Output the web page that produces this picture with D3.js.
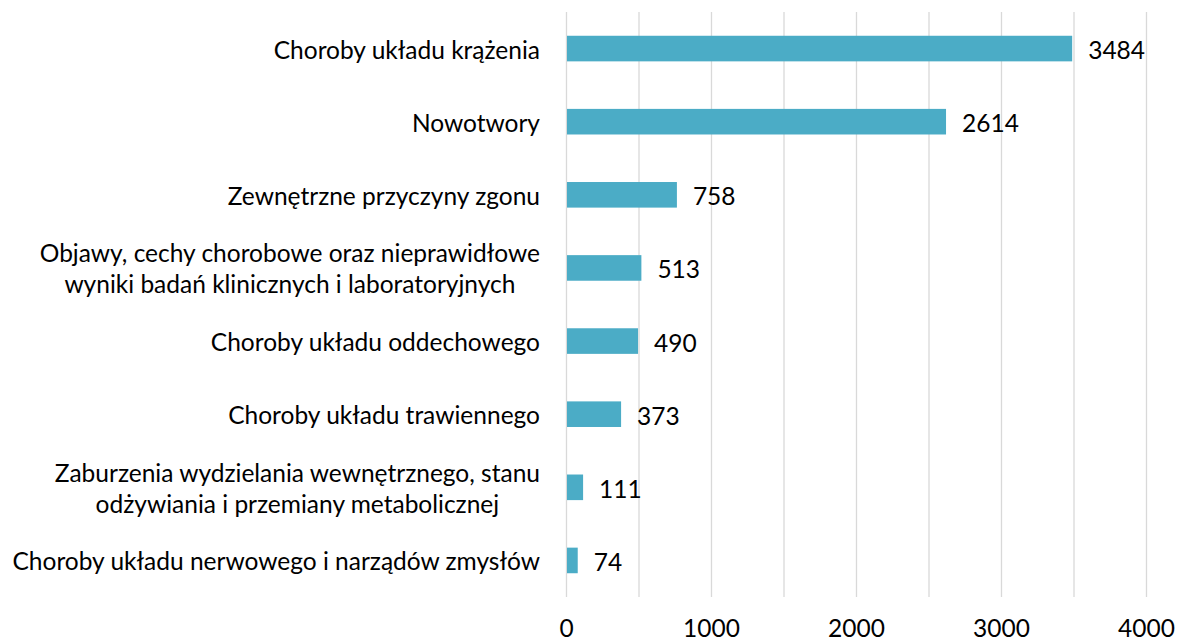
<!DOCTYPE html>
<html>
<head>
<meta charset="utf-8">
<script src="https://cdn.jsdelivr.net/npm/d3@7"></script>
<style>
  body { margin: 0; background: #fff; }
  svg text { font-family: Lato, "Open Sans", sans-serif; fill: #000; }
</style>
</head>
<body>
<svg id="chart"></svg>
<script>
// causes of death, counts
let categories = [
    ["Choroby układu krążenia"],
    ["Nowotwory"],
    ["Zewnętrzne przyczyny zgonu"],
    ["Objawy, cechy chorobowe oraz nieprawidłowe", "wyniki badań klinicznych i laboratoryjnych"],
    ["Choroby układu oddechowego"],
    ["Choroby układu trawiennego"],
    ["Zaburzenia wydzielania wewnętrznego, stanu", "odżywiania i przemiany metabolicznej"],
    ["Choroby układu nerwowego i narządów zmysłów"]
];
let values = [3484, 2614, 758, 513, 490, 373, 111, 74];
let tickLabels = [0, 1000, 2000, 3000, 4000];
let gridValues = [0, 500, 1000, 1500, 2000, 2500, 3000, 3500, 4000];

let width = 1177;
let height = 642;
let margin = {top: 12, right: 31, bottom: 45, left: 566};
let fontSize = 24.5;

var svg = d3.select('#chart').attr('width', width).attr('height', height);

let x = d3.scaleLinear()
    .domain([0, 4000])
    .range([margin.left, width - margin.right]);

let y = d3.scaleBand()
    .domain(d3.range(categories.length))
    .range([margin.top, height - margin.bottom])
    .paddingInner(0.65)
    .paddingOuter(0.325);

// gridlines
svg.append("g")
    .attr("class", "grid")
    .selectAll("line")
    .data(gridValues)
    .enter().append("line")
    .attr("x1", d => x(d) + 0.5)
    .attr("x2", d => x(d) + 0.5)
    .attr("y1", margin.top)
    .attr("y2", height - margin.bottom)
    .attr("stroke", "#d9d9d9")
    .attr("stroke-width", 1.3);

// bars
svg.append("g")
    .attr("class", "bars")
    .selectAll("rect")
    .data(values)
    .enter().append("rect")
    .attr("x", x(0) + 1)
    .attr("y", (d, i) => y(i))
    .attr("width", d => x(d) - x(0))
    .attr("height", y.bandwidth())
    .attr("fill", "#4bacc6");

// value labels
svg.append("g")
    .attr("class", "values")
    .selectAll("text")
    .data(values)
    .enter().append("text")
    .attr("x", d => x(d) + 17)
    .attr("y", (d, i) => y(i) + y.bandwidth() / 2 + 1)
    .attr("dominant-baseline", "central")
    .attr("font-size", fontSize)
    .text(d => d);

// x tick labels
let xAxis = d3.axisBottom(x)
    .tickValues(tickLabels)
    .tickSize(0)
    .tickPadding(0)
    .tickFormat(d3.format("d"));

let axisG = svg.append("g")
    .attr("transform", `translate(0, ${height - 15})`)
    .call(xAxis);
axisG.select(".domain").remove();
axisG.selectAll("text")
    .attr("font-size", fontSize)
    .attr("font-family", null)
    .attr("dy", null)
    .attr("dominant-baseline", "central");

// category labels, multi-line blocks centered on their widest line
let labelRight = margin.left - 26;
let lineHeight = 31;
let catG = svg.append("g").attr("class", "cats");
categories.forEach((lines, i) => {
    let cy = y(i) + y.bandwidth() / 2;
    let t = catG.append("text")
        .attr("font-size", fontSize)
        .attr("text-anchor", "middle")
        .attr("dominant-baseline", "central");
    lines.forEach((line, j) => {
        t.append("tspan")
            .attr("y", cy + (j - (lines.length - 1) / 2) * lineHeight)
            .text(line);
    });
    let maxW = d3.max(t.selectAll("tspan").nodes(), n => n.getComputedTextLength());
    t.selectAll("tspan").attr("x", labelRight - maxW / 2);
});
</script>
</body>
</html>
